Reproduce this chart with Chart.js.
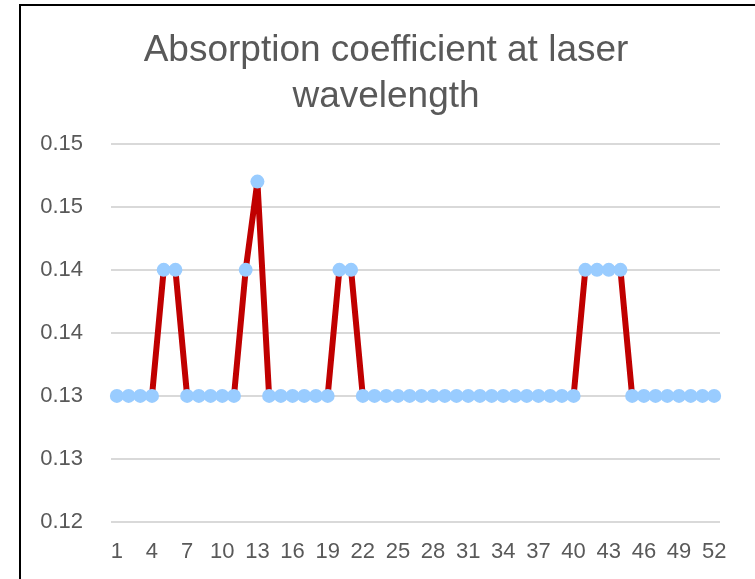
<!DOCTYPE html>
<html>
<head>
<meta charset="utf-8">
<script src="https://cdn.jsdelivr.net/npm/chart.js@4/dist/chart.umd.min.js"></script>
<style>
  html, body { margin: 0; padding: 0; background: #fff; overflow: hidden; }
  #frame { position: absolute; left: 19px; top: 4px; width: 800px; height: 700px;
           border-left: 2px solid #000; border-top: 2px solid #000; }
  #wrap { position: absolute; left: 0; top: 0; width: 755px; height: 579px; }
</style>
</head>
<body>
<div id="frame"></div>
<div id="wrap"><canvas id="myChart" width="755" height="579"></canvas></div>
<script>
'use strict';

// sample numbers 1..52
const samples = [];
for (let i = 1; i <= 52; i++) samples.push(String(i));

const absorption = [
  0.13, 0.13, 0.13, 0.13, 0.14, 0.14, 0.13, 0.13, 0.13, 0.13,
  0.13, 0.14, 0.147, 0.13, 0.13, 0.13, 0.13, 0.13, 0.13, 0.14,
  0.14, 0.13, 0.13, 0.13, 0.13, 0.13, 0.13, 0.13, 0.13, 0.13,
  0.13, 0.13, 0.13, 0.13, 0.13, 0.13, 0.13, 0.13, 0.13, 0.13,
  0.14, 0.14, 0.14, 0.14, 0.13, 0.13, 0.13, 0.13, 0.13, 0.13,
  0.13, 0.13
];

const yTicks = [0.12, 0.125, 0.13, 0.135, 0.14, 0.145, 0.15];
const yTickLabels = ['0.12', '0.13', '0.13', '0.14', '0.14', '0.15', '0.15'];

const grey = '#595959';
const fontFamily = '"Liberation Sans", Arial, sans-serif';

let ctx = document.getElementById('myChart').getContext('2d');
let myChart = new Chart(ctx, {
  type: 'line',
  data: {
    labels: samples,
    datasets: [{
      data: absorption,
      borderColor: '#C00000',
      borderWidth: 6,
      pointRadius: 7,
      pointHoverRadius: 7,
      pointBackgroundColor: '#99CCFF',
      pointBorderWidth: 0,
      tension: 0
    }]
  },
  options: {
    responsive: false,
    animation: false,
    layout: { padding: { left: 20, right: 3, top: 0, bottom: 0 } },
    plugins: {
      legend: { display: false },
      tooltip: { enabled: false },
      title: {
        display: true,
        text: ['Absorption coefficient at laser', 'wavelength'],
        color: grey,
        font: { family: fontFamily, size: 37, weight: 'normal', lineHeight: 1.24 },
        padding: { top: 28, bottom: 24 }
      }
    },
    scales: {
      x: {
        offset: true,
        grid: { display: false, drawTicks: false },
        border: { display: false },
        ticks: {
          autoSkip: false,
          maxRotation: 0,
          padding: 17,
          color: grey,
          font: { family: fontFamily, size: 22 },
          callback: function (v, i) { return i % 3 === 0 ? samples[i] : ''; }
        },
        afterFit: function (scale) { scale.height = 57; }
      },
      y: {
        min: 0.12,
        max: 0.15,
        afterBuildTicks: function (scale) {
          scale.ticks = yTicks.map(function (v) { return { value: v }; });
        },
        grid: { color: '#D9D9D9', lineWidth: 2, drawTicks: false },
        border: { display: false },
        ticks: {
          padding: 28,
          color: grey,
          font: { family: fontFamily, size: 22 },
          callback: function (v, i) { return yTickLabels[i]; }
        },
        afterFit: function (scale) { scale.width = 91; }
      },
      // empty right-hand strip so the plot stops short of the edge
      // while the title stays centred on the whole frame
      spacer: {
        type: 'linear',
        position: 'right',
        grid: { display: false, drawTicks: false },
        border: { display: false },
        ticks: { display: false },
        afterFit: function (scale) { scale.width = 32; }
      }
    }
  }
});
</script>
</body>
</html>
